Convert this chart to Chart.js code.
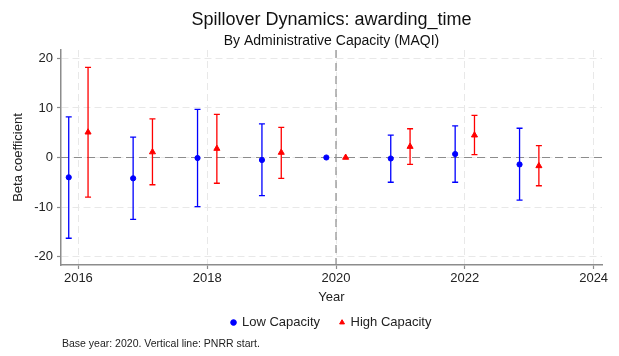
<!DOCTYPE html>
<html>
<head>
<meta charset="utf-8">
<script src="https://cdn.jsdelivr.net/npm/chart.js@4.4.1/dist/chart.umd.min.js"></script>
<style>
  html, body { margin: 0; padding: 0; background: #ffffff; }
  #wrap { position: relative; width: 619px; height: 356px; overflow: hidden; }
  #c { position: absolute; left: 0; top: 0; }
  #note { position: absolute; left: 62px; top: 337px; font-family: "Liberation Sans", Arial, sans-serif;
          font-size: 10.5px; line-height: 12px; color: #222; white-space: nowrap; }
</style>
</head>
<body>
<div id="wrap">
  <canvas id="c" width="619" height="356"></canvas>
  <div id="note">Base year: 2020. Vertical line: PNRR start.</div>
</div>
<script>
// ---- data ----
const years = [2016, 2017, 2018, 2019, 2020, 2021, 2022, 2023];
const lowCoef = [-4.0, -4.2, -0.1, -0.5, 0, -0.2, 0.7, -1.4];
const lowLo   = [-16.3, -12.5, -9.9, -7.7, null, -5.0, -5.0, -8.6];
const lowHi   = [8.2, 4.1, 9.7, 6.8, null, 4.5, 6.4, 5.9];
const highCoef = [5.1, 1.1, 1.8, 1.0, 0, 2.2, 4.5, -1.7];
const highLo   = [-8.0, -5.5, -5.2, -4.2, null, -1.4, 0.6, -5.7];
const highHi   = [18.2, 7.8, 8.7, 6.1, null, 5.8, 8.5, 2.4];
const xTickValues = [2016, 2018, 2020, 2022, 2024];
const yTickValues = [-20, -10, 0, 10, 20];
const baseYear = 2020;
const zeroLine = 0;
const seriesNames = ['Low Capacity', 'High Capacity'];

// ---- layout / style ----
const dodge = 0.15;
const FONT = '"Liberation Sans", Arial, Helvetica, sans-serif';
const BLUE = '#0000ff', RED = '#ff0000';

const errorBarPlugin = {
  id: 'errorBars',
  beforeDatasetsDraw(chart) {
    const {ctx, chartArea, scales: {x, y}} = chart;
    ctx.save();
    ctx.beginPath();
    ctx.rect(chartArea.left, chartArea.top, chartArea.right - chartArea.left, chartArea.bottom - chartArea.top);
    ctx.clip();
    // reference lines
    ctx.strokeStyle = '#8c8c8c';
    ctx.lineWidth = 1.2;
    ctx.setLineDash([8, 5]);
    const y0 = y.getPixelForValue(zeroLine);
    ctx.beginPath(); ctx.moveTo(chartArea.left, y0); ctx.lineTo(chartArea.right, y0); ctx.stroke();
    const xb = x.getPixelForValue(baseYear);
    ctx.beginPath(); ctx.moveTo(xb, chartArea.top); ctx.lineTo(xb, chartArea.bottom); ctx.stroke();
    ctx.setLineDash([]);
    // error bars
    chart.data.datasets.forEach(ds => {
      ctx.strokeStyle = ds.borderColor;
      ctx.lineWidth = 1.3;
      ds.data.forEach((p, i) => {
        const lo = ds.errLo[i], hi = ds.errHi[i];
        if (lo == null || hi == null) return;
        const px = x.getPixelForValue(p.x);
        const pl = y.getPixelForValue(lo), ph = y.getPixelForValue(hi);
        ctx.beginPath();
        ctx.moveTo(px, pl); ctx.lineTo(px, ph);
        ctx.moveTo(px - 3, pl); ctx.lineTo(px + 3, pl);
        ctx.moveTo(px - 3, ph); ctx.lineTo(px + 3, ph);
        ctx.stroke();
      });
    });
    ctx.restore();
  }
};

new Chart(document.getElementById('c'), {
  type: 'scatter',
  data: {
    datasets: [
      {
        label: seriesNames[0],
        data: years.map((yr, i) => ({x: yr - dodge, y: lowCoef[i]})),
        errLo: lowLo, errHi: lowHi,
        pointStyle: 'circle', pointRadius: 2.6,
        backgroundColor: BLUE, borderColor: BLUE, pointBorderWidth: 1
      },
      {
        label: seriesNames[1],
        data: years.map((yr, i) => ({x: yr + dodge, y: highCoef[i]})),
        errLo: highLo, errHi: highHi,
        pointStyle: 'triangle', pointRadius: 3.5,
        backgroundColor: RED, borderColor: RED, pointBorderWidth: 1
      }
    ]
  },
  options: {
    responsive: false,
    animation: false,
    devicePixelRatio: 1,
    layout: { padding: { left: 0, right: 17, top: 0, bottom: 17 } },
    plugins: {
      tooltip: { enabled: false },
      title: {
        display: true, fullSize: false,
        text: 'Spillover Dynamics: awarding_time',
        color: '#111',
        font: { family: FONT, size: 18, weight: 'normal' },
        padding: { top: 9, bottom: 2 }
      },
      subtitle: {
        display: true, fullSize: false,
        text: 'By Administrative Capacity (MAQI)',
        color: '#111',
        font: { family: FONT, size: 14, weight: 'normal' },
        padding: { top: 0, bottom: 0.6 }
      },
      legend: {
        display: true, position: 'bottom', fullSize: false,
        labels: {
          usePointStyle: true, boxWidth: 4, boxHeight: 4, padding: 20,
          color: '#222', font: { family: FONT, size: 13 }
        }
      }
    },
    scales: {
      x: {
        type: 'linear', min: 2015.73, max: 2024.13,
        afterBuildTicks: s => { s.ticks = xTickValues.map(v => ({value: v})); },
        afterFit: s => { s.height = 31; },
        ticks: { color: '#222', font: { family: FONT, size: 13 }, padding: 2, maxRotation: 0,
                 callback: v => String(v) },
        grid: { color: '#e8e8e8', lineWidth: 1, tickLength: 4,
                tickColor: '#8c8c8c', tickWidth: 1.2, tickBorderDash: [] },
        border: { display: true, color: '#8c8c8c', width: 1.5, dash: [7, 4] },
        title: { display: true, text: 'Year', color: '#222', font: { family: FONT, size: 13 },
                 padding: { top: 0, bottom: -9.3 } }
      },
      y: {
        type: 'linear', min: -21.7, max: 21.7,
        afterBuildTicks: s => { s.ticks = yTickValues.map(v => ({value: v})); },
        afterFit: s => { s.width = 61; },
        ticks: { color: '#222', font: { family: FONT, size: 13 }, padding: 4 },
        grid: { color: '#e8e8e8', lineWidth: 1, tickLength: 4,
                tickColor: '#8c8c8c', tickWidth: 1.2, tickBorderDash: [] },
        border: { display: true, color: '#8c8c8c', width: 1.5, dash: [7, 4] },
        title: { display: true, text: 'Beta coefficient', color: '#222', font: { family: FONT, size: 13 },
                 padding: { top: 10.2, bottom: 0 } }
      }
    }
  },
  plugins: [errorBarPlugin]
});
</script>
</body>
</html>
